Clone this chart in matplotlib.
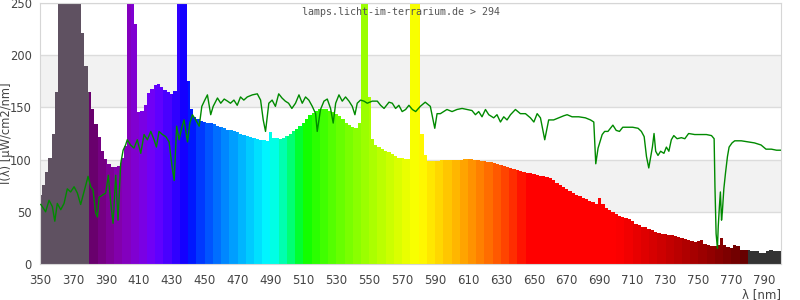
import numpy as np
import matplotlib
matplotlib.use("Agg")
from matplotlib import pyplot as plt
from matplotlib.patches import Rectangle

# lamp spectrum, 2 nm steps from 350 to 800 nm  [uW/cm2/nm]
spec_wl = np.arange(350, 801, 2)
spec_val = [
    66, 76, 88, 102, 125, 165, 250, 290, 305, 312, 308, 290, 255, 221, 190,  # 350-378
    165, 148, 134, 122, 108, 101, 96, 93, 93, 94, 102, 113,                   # 380-402
    280, 300, 230, 146, 147, 152, 164, 168, 171, 172, 170, 167, 165, 163, 166,  # 404-432
    260, 320, 300, 175, 148, 141, 139, 137, 136, 135, 135, 134, 132, 131, 130,  # 434-462
    128, 128, 127, 126, 125, 124, 123, 122, 121, 120, 119, 119, 118,            # 464-488
    126, 121, 121, 120, 121, 123, 125, 127, 129, 132, 135, 139, 143, 145,       # 490-516
    147, 148, 148, 148, 147, 146, 144, 142, 139, 135, 133, 131, 130, 135,       # 518-544
    300, 300, 160, 120, 114, 112, 110, 108, 107, 105, 103, 102, 102, 101, 101,  # 546-574
    260, 300, 250, 125, 104, 99, 99, 99, 99, 100, 100, 100, 100, 100, 100,      # 576-604
    100, 101, 101, 101, 100, 100, 99, 99, 98, 98, 97, 96, 95, 94, 93,           # 606-634
    92, 91, 90, 89, 88, 87, 87, 86, 85, 84, 84, 83, 82, 80, 78,                 # 636-664
    76, 74, 72, 70, 68, 66, 65, 63, 62, 60, 59, 57, 63, 57, 54,                 # 666-694
    52, 50, 48, 46, 45, 44, 43, 41, 38, 37, 35, 35, 34, 33, 31,                 # 696-724
    30, 29, 29, 28, 28, 27, 26, 25, 24, 23, 22, 21, 22, 23, 19,                 # 726-754
    18, 17, 17, 18, 25, 18, 16, 15, 18, 17, 13, 13, 13, 12, 12,                 # 756-784
    12, 11, 11, 12, 13, 12, 12, 12,                                             # 786-800
]

# reference (sunlight) curve
sun_wl = [
    350.5, 351.4, 353.4, 355.5, 357.5, 359, 360.5, 362.6, 364.6, 366.6, 368.6, 370.7,
    372.7, 374.7, 376.7, 379.2, 380.8, 382.2, 383.8, 384.9, 385.9, 387.9, 389.9, 391.5,
    393, 394.4, 396, 397.4, 399, 400.5, 402, 403, 405, 407.1, 409.1, 411.2, 413.2,
    415.2, 417.3, 419.3, 420.7, 422.3, 424.4, 426.4, 428.4, 430, 431.5, 433, 434.5,
    436, 437.5, 439.6, 441, 442.6, 444.6, 446.7, 448.3, 450.1, 451.7, 453.7, 455.2,
    457.8, 459.8, 461.9, 463.9, 465.7, 467.8, 469.8, 471.8, 473.8, 475.9, 479, 482,
    484, 485.6, 487, 489, 491, 493, 495, 497, 499, 501, 503, 505.2, 507.3, 509.3,
    511.3, 513.3, 515.4, 517.4, 518.4, 520.4, 522.5, 524.5, 526.5, 528.1, 529.6,
    531.6, 533.6, 535.6, 537.7, 539.7, 541.3, 542.7, 544.7, 546.8, 548.8, 551.8,
    554.9, 556.9, 559, 562, 564, 566, 568, 570, 572.1, 574.1, 576.2, 578.2, 581,
    584, 587.1, 588.5, 589.8, 591.2, 593.2, 595.2, 597.2, 600.3, 603.3, 606.4, 609.4,
    612.4, 614.5, 616.5, 618.5, 620.6, 622.6, 625.6, 627.6, 629.7, 631.7, 633.7,
    635.8, 638.8, 641.8, 644.9, 647.9, 650, 652, 654, 655.6, 656.6, 657.6, 659, 662,
    665.1, 668.2, 670.2, 673.2, 677.3, 681.3, 684.4, 686.4, 687, 687.6, 689, 691.5,
    693, 695, 698, 700, 702, 704, 707, 710, 713.3, 715.3, 717, 718.4, 719.8, 721,
    722, 723, 724, 725.4, 727, 729, 730.5, 732, 733.5, 735, 737, 739.6, 741.7, 744,
    747.7, 751.8, 754.8, 757.9, 759.5, 760, 760.7, 761.5, 762, 762.7, 763.3, 764,
    764.5, 765.4, 766.4, 767.6, 768.6, 770.4, 772, 776, 780, 784, 788, 791, 794.3,
    797.4, 800,
]
sun_val = [
    57, 55, 50, 61, 55, 41, 58, 52, 58, 72, 69, 74,
    68, 57, 69, 84, 74, 71, 49, 45, 64, 66, 68, 85,
    58, 39, 85, 42, 96, 109, 114, 119, 114, 111, 119, 106, 124,
    119, 127, 119, 112, 127, 124, 122, 117, 96, 80, 132, 119,
    130, 138, 117, 135, 143, 138, 132, 151, 157, 162, 143, 151,
    159, 154, 158, 156, 154, 157, 152, 160, 157, 160, 162, 163,
    157, 138, 127, 154, 157, 151, 163, 159, 156, 154, 149, 154, 162, 154,
    160, 157, 151, 144, 127, 148, 156, 158, 149, 135, 154,
    162, 156, 160, 156, 151, 143, 154, 157, 156, 154, 156,
    156, 152, 149, 155, 154, 149, 152, 146, 148, 152, 148, 146, 151,
    155, 151, 140, 130, 144, 144, 146, 148, 146, 148, 149, 148,
    147, 143, 146, 141, 148, 143, 140, 143, 136, 141, 138,
    143, 148, 144, 144, 140, 136, 144, 140, 127, 119, 127, 138, 138,
    140, 142, 143, 141, 141, 140, 138, 136, 116, 96, 111, 124,
    127, 127, 133, 128, 127, 131, 131, 131, 130, 127, 122, 103, 92, 103,
    112, 125, 108, 104, 108, 106, 112, 108, 119, 123, 120, 121, 120, 125,
    124, 124, 124, 123, 120, 74, 29, 15, 36, 55, 69, 42,
    50, 72, 87, 103, 112, 116, 118, 118, 117, 116, 114, 110, 110,
    109, 109,
]


def wl_color(wl):
    # rough visible-spectrum colour (Bruton style)
    if wl < 440:
        r, g, b = (440 - wl) / 60, 0.0, 1.0
    elif wl < 490:
        r, g, b = 0.0, (wl - 440) / 50, 1.0
    elif wl < 510:
        r, g, b = 0.0, 1.0, (510 - wl) / 20
    elif wl < 580:
        r, g, b = (wl - 510) / 70, 1.0, 0.0
    elif wl < 645:
        r, g, b = 1.0, (645 - wl) / 65, 0.0
    else:
        r, g, b = 1.0, 0.0, 0.0
    if wl < 420:
        f = 0.3 + 0.7 * (wl - 380) / 40
    elif wl > 700:
        f = 0.3 + 0.7 * (780 - wl) / 80
    else:
        f = 1.0
    return tuple((c * f) ** 0.8 if c > 0 else 0.0 for c in (r, g, b))


fig = plt.figure(figsize=(8, 3), dpi=100)
ax = fig.add_axes([0.05, 0.12, 0.926, 0.87])

ax.set_xlim(350, 800)
ax.set_ylim(0, 250)

for lo in (50, 150):
    ax.axhspan(lo, lo + 50, color='#f2f2f2', zorder=0, lw=0)
ax.set_yticks(range(0, 251, 50))
ax.set_xticks(range(350, 791, 20))
ax.grid(axis='y', color='#dcdcdc', lw=1, zorder=0.5)
ax.set_axisbelow(True)

# spectrum shape, used as clip for the colour bands
poly = ax.fill_between(spec_wl, spec_val, step='mid', color='none', lw=0)
clip = poly.get_paths()[0]

bands = [(350, 30, '#5f5161')]
for b in range(380, 780, 5):
    bands.append((b, 5, wl_color(b + 2.5)))
bands.append((780, 22, '#333333'))
for x0, w, c in bands:
    r = Rectangle((x0, 0), w, 400, facecolor=c, edgecolor='none', zorder=2)
    ax.add_patch(r)
    r.set_clip_path(clip, ax.transData)

ax.plot(sun_wl, sun_val, color='#008a00', lw=1, zorder=3)

for s in ax.spines.values():
    s.set_color('#d6d6d6')
ax.tick_params(length=0, labelsize=8.5, colors='#444444', pad=7)
ax.tick_params(axis='y', labelsize=8.3, pad=6)

ax.set_ylabel('I(λ) [µW/cm2/nm]', fontsize=8.3, color='#444444')
ax.yaxis.set_label_coords(-0.037, 0.5)
ax.text(1.0, -0.092, 'λ [nm]', transform=ax.transAxes, ha='right', va='top',
        fontsize=8.5, color='#444444')
ax.text(0.487, 0.985, 'lamps.licht-im-terrarium.de > 294', transform=ax.transAxes,
        ha='center', va='top', fontsize=7.2, family='DejaVu Sans Mono', color='#555555')

fig.savefig('out.png', dpi=100)
